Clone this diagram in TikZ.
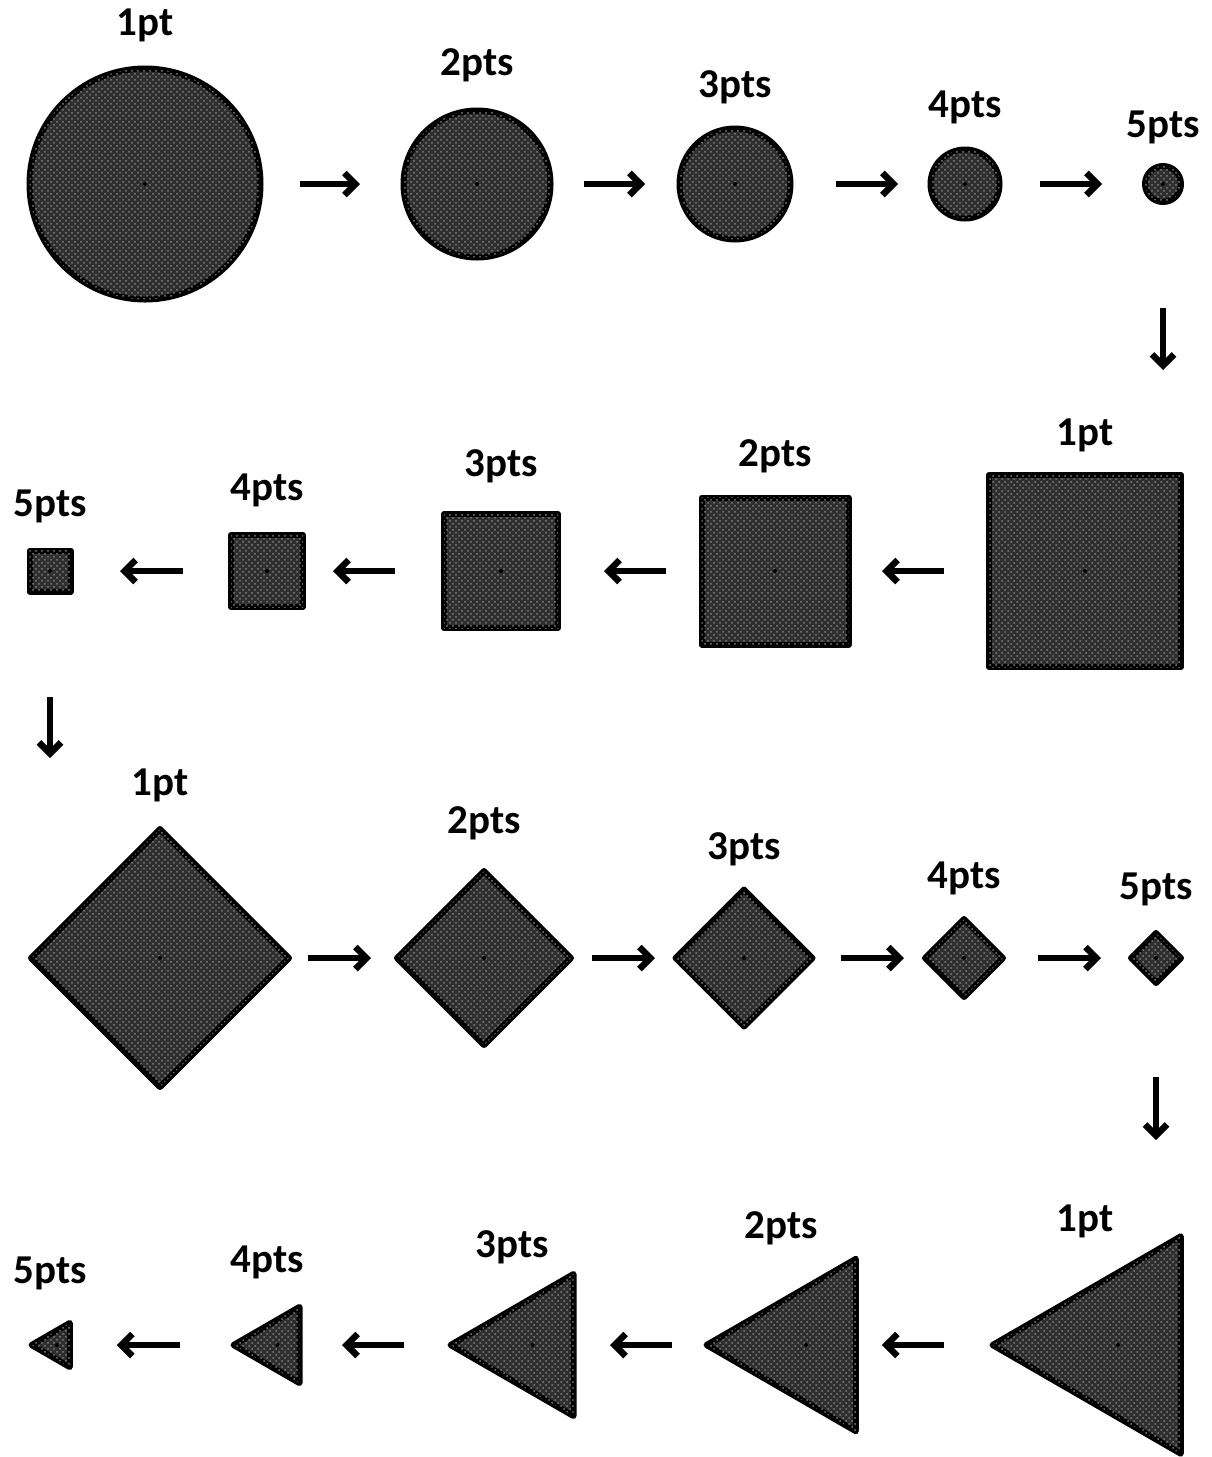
\documentclass[tikz,border=0pt]{standalone}
\usepackage{fontspec}
\setmainfont{Carlito}
\usetikzlibrary{arrows.meta, shapes.geometric, patterns}
\tikzset{
  shp/.style={draw, line width=3pt, line join=round, fill=black!82,
    postaction={pattern=crosshatch dots, pattern color=black!50},
    inner sep=0pt, outer sep=0pt},
  circ/.style={shp, circle, minimum size=#1*0.5pt},
  sq/.style={shp, rectangle, minimum size=#1*0.5pt},
  dia/.style={shp, diamond, minimum width=#1*0.5pt, minimum height=#1*0.5pt},
  tri/.style={shp, regular polygon, regular polygon sides=3,
    shape border rotate=90, minimum size=#1*0.5pt},
  pts/.style={font=\fontsize{20.5}{24}\selectfont\bfseries, anchor=base, inner sep=0pt},
  arr/.style={line width=3.2pt, -{Straight Barb[length=5.5pt, width=11pt]}},
}

\begin{document}
\begin{tikzpicture}[x=0.5pt, y=-0.5pt]
  \useasboundingbox (0,0) rectangle (1211,1457);

  % circles
  \foreach \i/\x/\d/\ly/\lab in {1/145/231/35/1pt, 2/477/147/75/2pts,
      3/735/111/97/3pts, 4/965/69/117/4pts, 5/1163/36/137/5pts}{
    \node[circ=\d] (c\i) at (\x,184) {};
    \fill (c\i) circle (2);
    \node[pts] (lc\i) at (\x,\ly) {\lab};
  }
  \foreach \a/\b/\s/\e in {1/2/39.5/43.5, 2/3/33.5/34.5, 3/4/45.5/32.5, 4/5/40.5/43}{
    \draw[arr, shorten <=\s*0.5pt, shorten >=\e*0.5pt] (c\a) -- (c\b);
  }

  % squares
  \foreach \i/\x/\d/\ly/\lab in {1/1085/192/445/1pt, 2/775/147/466/2pts,
      3/501/114/476/3pts, 4/267/72/500/4pts, 5/50/41/516/5pts}{
    \node[sq=\d] (s\i) at (\x,571) {};
    \fill (s\i) circle (2);
    \node[pts] (ls\i) at (\x,\ly) {\lab};
  }
  \draw[arr, shorten <=106*0.5pt, shorten >=201*0.5pt] (c5) -- (c5 |- s1);
  \foreach \a/\b/\s/\e in {1/2/45/33.5, 2/3/35.5/46, 3/4/49/30, 4/5/48/49.5}{
    \draw[arr, shorten <=\s*0.5pt, shorten >=\e*0.5pt] (s\a) -- (s\b);
  }

  % diamonds
  \foreach \i/\x/\d/\ly/\lab in {1/160/258/795/1pt, 2/484/174/833/2pts,
      3/744/137/859/3pts, 4/964/78/888/4pts, 5/1156/50/899/5pts}{
    \node[dia=\d] (d\i) at (\x,958) {};
    \fill (d\i) circle (2);
    \node[pts] (ld\i) at (\x,\ly) {\lab};
  }
  \draw[arr, shorten <=105.5*0.5pt, shorten >=200*0.5pt] (s5) -- (s5 |- d1);
  \foreach \a/\b/\s/\e in {1/2/19/26, 2/3/21/20.5, 3/4/28.5/21, 4/5/35/30}{
    \draw[arr, shorten <=\s*0.5pt, shorten >=\e*0.5pt] (d\a) -- (d\b);
  }

  % triangles
  \foreach \i/\x/\d/\lx/\ly/\lab in {1/1118/251/1085/1231/1pt, 2/806/199/781/1238/2pts,
      3/532.5/164/512/1257/3pts, 4/277.5/88/267/1272/4pts, 5/57/51/50/1283/5pts}{
    \node[tri=\d] (t\i) at (\x,1345) {};
    \fill (t\i) circle (2);
    \node[pts] (lt\i) at (\lx,\ly) {\lab};
  }
  \draw[arr, shorten <=94*0.5pt, shorten >=205*0.5pt] (d5) -- (d5 |- t1);
  \foreach \a/\b/\s/\e in {1/2/48.5/26, 2/3/34.5/36.5, 3/4/46.5/42.5, 4/5/53.5/47}{
    \draw[arr, shorten <=\s*0.5pt, shorten >=\e*0.5pt] (t\a) -- (t\b);
  }
\end{tikzpicture}
\end{document}
